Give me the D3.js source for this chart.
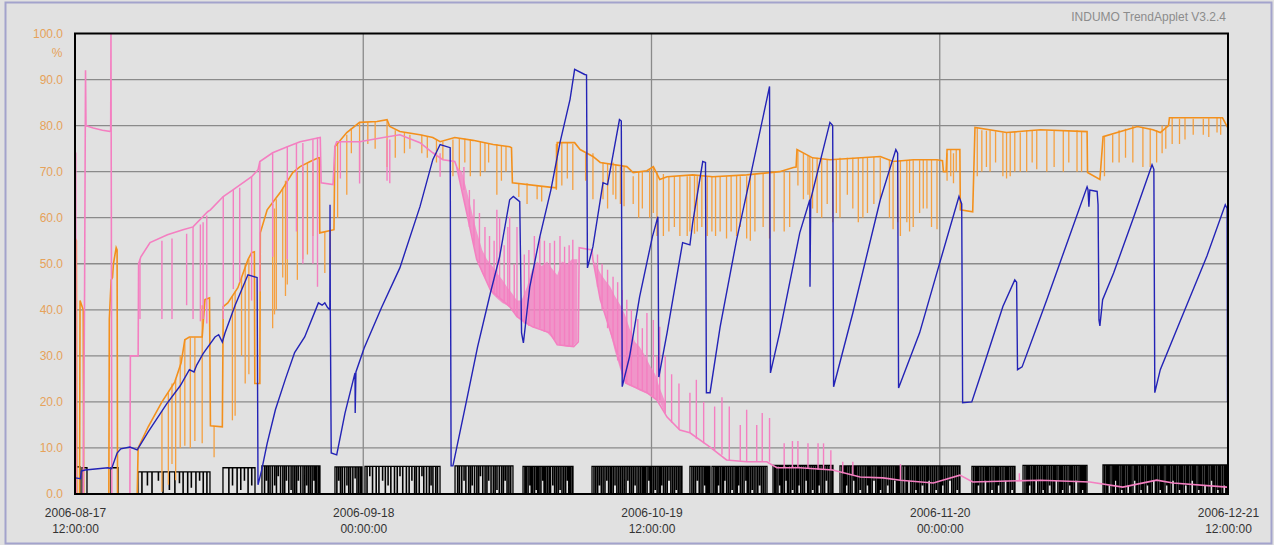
<!DOCTYPE html>
<html><head><meta charset="utf-8">
<script src="https://cdn.jsdelivr.net/npm/d3@7"></script>
<style>
html,body{margin:0;padding:0;background:#e1e1e1;}
svg{display:block;font-family:"Liberation Sans",Arial,sans-serif;}
</style></head><body>
<svg id="chart" width="1274" height="545"></svg>
<script>
// Time window of the trend (days are counted from startTime)
const startTime = Date.UTC(2006, 7, 17, 12);
const endTime = Date.UTC(2006, 11, 21, 12);
const xTickTimes = [Date.UTC(2006,7,17,12), Date.UTC(2006,8,18,0), Date.UTC(2006,9,19,12), Date.UTC(2006,10,20,0), Date.UTC(2006,11,21,12)];
const yTicks = [0,10,20,30,40,50,60,70,80,90,100];
const unitLabel = "%";
const titleText = "INDUMO TrendApplet V3.2.4";

// Blue trace: [day, %]
const blueSeries = [[0,3.5],[0.6,3.3],[0.7,5.0],[1.1,5.2],[3.6,5.7],[4.0,5.5],[4.6,8.9],[5.0,9.8],[6.0,10.2],[6.8,9.6],[8.0,13.5],[10.0,19.5],[11.5,23.5],[12.5,27.0],[13.0,26.5],[13.3,28.0],[14.0,30.5],[15.3,34.1],[15.7,34.6],[16.1,33.0],[16.4,35.0],[17.5,41.0],[18.9,47.6],[19.9,47.0],[20.0,2.0],[20.4,5.2],[21.0,11.0],[21.9,18.3],[23.0,25.0],[24.0,30.7],[25.1,34.1],[26.6,41.5],[27.0,41.0],[27.3,41.5],[27.6,40.5],[27.85,40.0],[27.87,62.8],[27.9,40.0],[28.0,8.9],[28.6,8.5],[29.5,17.5],[30.6,26.3],[30.62,17.6],[30.7,26.5],[31.6,31.7],[33.5,40.5],[35.5,49.1],[37.7,62.4],[39.1,72.6],[39.9,75.9],[41.0,75.2],[41.1,6.1],[41.3,6.1],[42.8,20.4],[44.0,32.0],[45.4,43.7],[46.4,51.5],[47.5,63.9],[47.9,64.6],[48.6,63.5],[48.8,35.0],[49.0,32.8],[49.7,45.0],[50.8,55.9],[52.0,66.0],[53.0,76.3],[54.1,85.7],[54.6,92.2],[55.7,91.1],[55.9,91.0],[56.0,49.1],[56.6,53.7],[57.7,67.6],[58.2,67.2],[59.5,81.3],[59.7,81.0],[59.8,23.3],[60.6,29.8],[61.7,42.8],[63.1,55.9],[63.7,60.2],[63.8,25.4],[64.7,35.0],[66.4,54.6],[67.2,54.1],[67.5,58.9],[68.6,72.2],[68.9,72.0],[69.0,22.0],[69.4,22.0],[70.5,36.3],[72.3,55.2],[73.8,68.9],[75.6,85.7],[75.9,88.5],[76.0,26.3],[77.0,35.0],[79.2,56.7],[80.3,63.9],[80.32,45.0],[80.4,64.0],[82.5,80.7],[82.8,80.0],[82.9,23.3],[85.0,39.3],[88.0,63.9],[89.7,74.8],[89.9,74.0],[90.0,23.0],[92.3,35.0],[94.5,50.2],[96.6,64.6],[96.9,63.0],[97.0,19.8],[98.0,20.0],[99.0,26.0],[101.4,40.7],[102.7,46.5],[102.9,46.0],[103.0,27.0],[103.5,27.6],[106.2,42.2],[108.5,55.0],[110.6,66.7],[110.7,66.1],[110.8,62.4],[110.9,66.0],[111.7,65.7],[111.8,62.8],[111.9,37.8],[112.0,36.5],[112.3,42.2],[113.5,48.0],[115.6,59.6],[117.7,71.5],[117.9,70.5],[118.0,22.0],[118.6,27.0],[120.7,37.2],[123.7,51.7],[125.7,62.8],[125.9,62.0],[125.95,20.0]];

// Orange trace: [day, %]
const orangeSeries = [[0,55.6],[0.15,55.0],[0.2,0],[0.5,0],[0.55,42],[0.9,40],[0.95,0],[3.7,0],[3.75,38],[3.95,46.5],[4.1,47],[4.2,50],[4.5,53.5],[4.6,53],[4.65,0],[6.8,0],[6.9,10.0],[8.0,14.6],[9.5,20.0],[10.9,24.3],[11.6,28.5],[12.0,33.5],[12.5,34.1],[13.9,34.1],[14.2,42.2],[14.7,42.6],[14.8,14.8],[16.1,14.6],[16.2,40.7],[16.7,41.5],[17.8,44.8],[18.9,50.9],[19.3,52.4],[19.6,52.6],[19.65,24.0],[20.2,24.0],[20.25,56.7],[21.0,61.7],[21.6,63.3],[22.4,65.4],[23.8,69.8],[24.6,71.1],[25.7,72.2],[26.6,73.0],[26.7,73.0],[26.75,56.7],[28.3,57.4],[28.4,75.4],[29.7,78.5],[31.1,80.7],[33.0,80.9],[34.1,81.3],[34.4,79.8],[35.5,78.7],[37.7,78.0],[39.1,77.4],[39.9,76.5],[41.5,77.4],[43.5,76.8],[45.7,75.9],[47.5,75.4],[47.7,75.2],[47.8,67.6],[51.6,66.7],[52.6,66.5],[52.7,76.3],[54.6,76.3],[55.2,74.8],[56.6,73.3],[57.4,72.0],[60.3,71.1],[61.0,69.8],[62.5,70.2],[63.2,71.1],[63.9,68.3],[64.7,68.9],[67.5,69.3],[69.7,68.9],[73.4,69.3],[77.0,70.0],[78.5,70.9],[78.8,71.0],[78.9,74.8],[80.6,73.0],[82.5,72.6],[88.0,73.3],[89.4,72.2],[91.6,72.6],[94.2,72.6],[94.8,72.4],[94.9,70.0],[95.2,70.0],[95.3,74.8],[96.7,74.8],[96.75,61.7],[98.1,61.3],[98.35,79.6],[101.8,78.5],[105.5,79.1],[110.6,78.7],[110.65,69.8],[112.0,68.3],[112.35,77.6],[116.1,79.8],[117.8,79.1],[118.6,78.5],[119.5,80.0],[119.6,81.7],[125.4,81.7],[125.9,79.8],[126,80.0]];

// Short orange dropouts: [day, from %, to %]
const orangeDrops = [[9.5,18,0.5],[10.2,22,2],[10.6,24,6.5],[11.0,25,3],[11.5,30,10],[12.0,33.5,10.5],[12.6,34,10],[13.1,34,11.5],[13.9,41,11],[15.2,14.7,8],[17.2,43,16],[17.5,44,17],[18.2,47,30],[18.6,50,24],[19.0,51,26],[21.6,63,36],[21.8,62,39],[22.0,64,40],[22.7,66.5,47],[23.0,68,43],[23.2,68,45.5],[24.3,70,46.5],[24.9,71,51],[25.4,71.8,52],[26.0,72,56],[27.3,57,48],[27.9,57.2,50],[28.7,76,60],[29.7,78,65],[30.2,79.5,74],[31.1,80.5,70],[32.0,80.8,76],[32.8,80.9,75],[34.1,81,71],[35.0,79,73],[36.0,78.5,74],[36.6,78,75],[37.9,78,74],[38.5,77.6,73],[39.5,77,72],[40.2,76.5,72.6],[41.3,77,69],[42.0,77.3,70],[42.6,77.2,72],[43.2,77,69],[44.3,76.5,69],[44.8,76.3,70],[45.2,76.2,72],[46.1,76,65],[46.6,75.7,68],[47.1,75.5,70],[48.5,67.4,64.5],[49.4,67.5,63],[50.5,67,64],[51.0,66.8,63.5],[52.6,76,66],[53.2,76.3,67],[53.8,76.3,68.5],[54.4,76,66],[55.8,74,68],[56.6,74,64],[57.7,72,64],[58.2,71.8,62],[58.8,72,65],[59.1,71.5,64],[59.6,71,63],[60.0,71.2,62.5],[61.0,69,63],[61.6,69.9,60],[62.0,70,62],[62.8,70.5,60],[63.2,71,61],[63.6,70,56],[64.3,69.5,56],[64.9,69,57],[65.5,69,58],[66.1,69,56],[66.9,69,56],[67.2,69,57],[67.7,69.3,56.5],[68.0,69,57],[68.5,69.2,58],[69.1,69,56],[69.6,69,57],[70.0,69,56],[70.5,69,57],[71.2,69,55.5],[71.7,69.1,57],[72.3,69.2,56],[72.7,69,58],[73.4,69,55.5],[73.8,69,55],[74.3,69.5,57],[75.2,69.6,58],[75.9,69.5,55.5],[76.4,69.8,57],[77.5,70.1,57],[78.1,70,58],[79.0,74.5,67],[79.6,74,64],[80.1,73.5,65],[80.3,73.2,63],[80.6,73,62],[81.1,73,61],[81.6,72.8,60],[82.2,72.6,63],[82.8,72.6,59],[83.2,72.7,61],[83.6,73,60],[84.4,73,65],[85.0,73,62],[85.6,73,59],[86.1,73,60],[86.6,73.1,61],[87.3,73.2,63],[88.0,73,64],[89.0,72.6,60],[89.4,72,57.5],[89.9,72.3,59],[90.2,72.5,56],[90.9,72.5,59],[91.2,72.6,57],[91.6,72.5,58],[92.3,72.5,61],[92.7,72.6,62],[93.1,72.5,62],[93.6,72.6,58],[94.2,72.5,57.5],[95.3,74,68],[95.7,74.8,69],[96.0,74,67.5],[96.3,74.8,70],[98.6,79.6,69],[99.1,79,70],[99.6,78.9,71],[100.0,79,70],[100.6,78.8,72],[101.4,78.5,69],[101.8,78.5,68.5],[102.2,78.5,69],[102.7,78.6,70],[103.3,78.5,70],[104.0,79,70],[104.6,79,72],[105.1,79,70.5],[106.2,79,70],[107.0,79,71],[108.0,79,70],[108.6,79,72],[109.5,79,70],[110.0,78.8,70],[112.5,77.6,69],[113.4,78,72],[114.1,79,72],[114.8,79.3,73],[115.6,80,72],[116.7,79.5,71],[117.5,79.3,71],[118.2,79,72],[118.8,80,74],[119.2,80,75],[119.9,81.7,76],[120.7,81.5,76],[121.3,81.6,77],[122.2,81.5,78],[123.3,81.5,78],[123.9,81.6,77.5],[124.8,81.7,78.5],[125.2,81.7,78]];

// Pink trace: [day, %]
const pinkSeries = [[0,74],[0.08,74],[0.12,0],[0.9,0],[1.05,45],[1.15,92],[1.2,80],[2.0,79.5],[3.0,79],[3.9,78.7],[3.93,100],[3.97,62],[4.02,0],[6.0,0],[6.05,30],[6.9,30],[6.95,50],[7.2,51.5],[8.2,54.6],[10.1,56.3],[11.8,57.4],[12.9,58.0],[14.5,61.3],[14.8,61.7],[16.2,64.6],[17.3,66.1],[19.3,68.9],[20.0,70.4],[20.2,72.2],[21.6,74.1],[23.2,75.4],[24.6,76.5],[26.8,77.4],[26.9,67.6],[28.2,67.2],[28.4,75.4],[28.6,76.5],[31.1,76.5],[33.7,77.4],[35.5,78.0],[37.7,76.3],[39.1,74.1],[40.2,72.6],[41.5,72.2],[41.7,71.1],[42.8,61.1],[43.9,50.9],[45.4,44.3],[47.5,40.7],[48.3,38.5],[50.0,36.3],[51.9,35.0],[52.7,32.4],[54.5,32.0],[55.0,33],[55.1,53.5],[56.5,53.0],[56.6,50.9],[57.4,42.2],[58.8,33.5],[60.2,24.1],[62.5,22.0],[63.6,20.4],[64.7,16.7],[66.1,13.9],[67.2,13.3],[69.4,10.2],[71.2,7.4],[73.4,7.0],[75.6,7.0],[76.7,5.7],[79.2,5.7],[82.8,5.2],[85.8,3.7],[88.3,3.5],[90.2,3.0],[93.8,2.4],[96.7,4.1],[98.1,2.6],[105.5,3.0],[110.9,2.6],[114.5,1.5],[118.2,3.0],[120.0,2.4],[125.9,1.5]];

// Dense pink bands: [day, low %, high %]
const pinkBandA = [[41.7,71.1,71.1],[42.3,66,70],[42.8,61,66],[43.4,56,61],[43.9,51,57],[44.5,48,53],[45.0,46,51],[45.6,43.5,49.5],[46.1,42.5,48],[46.7,41.5,46.5],[47.2,41,45],[47.8,40,43.5],[48.3,38.5,42],[48.8,37.5,42],[49.4,36.8,45],[49.9,36.3,48.5],[50.5,36,50.5],[51.0,35.5,49.5],[51.6,35,50.5],[52.1,34,49],[52.7,32.5,47.5],[53.2,32.2,50.5],[53.8,32,50],[54.3,32,51],[54.9,33,51]];
const pinkBandB = [[56.8,49,50.5],[57.4,42.2,48],[57.9,39,46.5],[58.5,35,45],[59.0,31,43],[59.6,27,41],[60.1,24,39],[60.6,23.5,36],[61.2,23,33],[61.7,22.5,32],[62.3,22,30],[62.8,21.5,28],[63.4,20.8,26],[63.9,20,23],[64.5,17.5,20]];

// Pink short excursions: [day, from %, to %]
const pinkSpikes = [[7.1,51,38],[9.5,55,38],[10.6,55.5,38],[12.2,56.5,41],[12.9,58,38],[13.7,58.5,37.5],[14.0,59,38],[14.4,60.5,37],[16.2,64.6,38],[17.3,66,44.5],[18.0,66.5,46],[19.3,69,42],[20.2,72,44],[21.6,74,51.5],[23.2,75.4,51],[24.2,76,57],[24.9,76.2,50],[26.0,77,50],[26.5,77.4,45],[29.0,76.5,68.5],[31.1,76.5,67.4],[34.1,77,68],[34.4,77,67.5],[39.9,74,68.9],
[42.5,66,71],[43.1,58,66],[43.6,54,64],[44.2,50,61],[44.8,47,58],[45.3,45,56],[45.8,43.5,55],[46.1,42.8,61.7],[46.4,42.5,60],[46.9,41.5,54],[47.3,41,58],[47.5,40.7,60.2],[48.0,39.5,50],[48.3,38.5,58.0],[49.1,37,52],[49.6,36.5,53],[50.2,36.2,56],[50.8,36,55.9],[51.3,35.2,55],[51.9,35,54.5],[52.4,33.5,55],[53.0,32.3,56],[53.5,32.2,53.7],[54.0,32,54],[54.4,32,55.2],
[57.1,45,52],[57.6,40,50],[58.2,36,48.7],[58.8,33.5,47.2],[59.3,29,46],[59.8,26,44.3],[60.3,24,42.2],[60.8,23.5,40],[61.5,23,38],[62.0,22.5,36],[62.5,22,39.3],[63.2,21,37.8],[63.6,20.5,30],[63.9,20.4,36.3],[64.5,17.5,30],[65.2,15.5,26],[66.0,14,24],[67.2,13.3,22],[67.9,12,24.8],[68.7,11,20],[69.9,9.5,19],[70.7,8.5,21],[71.5,7.4,19],[72.7,7.2,15],[73.4,7.0,18.3],[74.5,7.0,15],[75.1,7.0,17.6],[75.9,7.0,16.5],[77.5,5.7,11],[78.4,5.7,11.5],[79.0,5.7,11.5],[80.1,5.5,11],[81.2,5.3,11],[81.8,5.2,11],[82.6,5.2,9.5],[83.9,4.5,7],[85.0,4.2,7],[90.2,3.0,6.5],[103.2,3,4.5]];

// Black status signal: running periods [from day, to day, level %] and dips [day, %]
const statusRuns = [[0,0.55,5.9],[0.77,1.31,5.7],[3.93,4.7,5.7],[6.88,14.75,4.8],[16.17,19.67,5.7],[20.43,26.77,6.1],[28.41,31.36,5.9],[31.69,39.89,6.0],[41.53,47.86,6.1],[48.96,54.42,6.0],[56.5,66.33,6.0],[67.2,69.39,6.0],[69.61,75.62,6.0],[76.28,82.83,6.2],[83.6,90.15,6.1],[90.37,96.71,6.1],[98.02,102.72,6.0],[103.6,110.59,6.2],[112.34,125.89,6.3]];
const statusDips = [[7.3,0],[7.9,2],[8.4,0],[9.1,3],[9.6,0],[10.3,1],[10.9,0],[11.4,2.5],[11.8,0],[12.3,0],[12.7,1.5],[13.2,0],[13.6,3],[14.0,0],[14.4,0],
[16.8,0],[17.2,2],[17.7,0],[18.1,1],[18.5,3],[18.9,0],[19.3,2],
[20.9,3],[21.3,0],[21.8,2],[22.2,4],[22.7,0],[23.1,3],[23.6,1],[24.0,0],[24.4,3],[24.9,0],[25.3,2],[25.7,0],[26.1,3],[26.4,0],
[28.8,3],[29.2,0],[29.7,2],[30.1,0],[30.6,3.5],[31.0,0],
[32.2,4],[32.9,0],[33.6,3],[34.2,2],[34.9,0],[35.5,4],[36.2,0],[36.8,3],[37.3,0],[37.9,4],[38.4,0],[38.9,2],[39.4,0],
[42.0,0],[42.5,3],[43.0,0],[43.4,2],[43.9,0],[44.3,4],[44.8,0],[45.2,3],[45.7,0],[46.1,1],[46.6,0],[47.0,3],[47.4,0],
[49.3,0],[49.7,2],[50.0,0],[50.4,1],[50.7,0],[51.1,3],[51.4,0],[51.8,0],[52.2,2],[52.6,0],[53.0,1],[53.4,0],[53.8,3],[54.1,0],
[56.9,0],[57.3,2],[57.7,0],[58.1,3],[58.5,0],[58.6,0],[59.0,2],[59.6,0],[60.0,0],[60.4,3],[60.8,0],[61.2,2],[61.6,0],[62.0,0],[62.3,0],[62.7,3],[63.0,0],[63.4,1],[63.8,0],[64.1,2],[64.5,0],[64.9,3],[65.3,0],[65.7,1],[66.0,0],
[67.6,0],[68.0,3],[68.4,0],[68.8,2],[69.1,0],
[70.0,0],[70.3,2],[70.7,0],[71.0,3],[71.4,0],[71.8,1],[72.2,0],[72.5,2],[72.9,0],[73.3,3],[73.6,0],[74.0,1],[74.4,0],[74.8,2],[75.2,0],
[76.6,0],[77.0,2],[77.3,0],[77.7,3],[78.0,0],[78.4,1],[78.8,0],[79.1,2],[79.5,0],[79.9,3],[80.2,0],[80.6,1],[81.0,0],[81.3,2],[81.7,0],[82.1,3],[82.5,0],
[84.0,0],[84.3,2],[84.7,0],[85.1,3],[85.4,0],[85.8,1],[86.2,0],[86.6,2],[86.9,0],[87.3,3],[87.7,0],[88.0,1],[88.4,0],[88.8,2],[89.2,0],[89.6,3],[89.9,0],
[90.8,0],[91.1,3],[91.5,0],[91.9,1],[92.2,0],[92.6,2],[93.0,0],[93.3,3],[93.7,0],[94.1,1],[94.5,0],[94.8,2],[95.2,0],[95.6,3],[96.0,0],[96.4,1],
[98.4,0],[98.7,2],[99.1,0],[99.5,3],[99.8,0],[100.2,1],[100.6,0],[100.9,2],[101.3,0],[101.7,3],[102.0,0],[102.4,1],
[104.0,0],[104.3,2],[104.7,0],[105.0,3],[105.4,0],[105.8,1],[106.1,0],[106.5,2],[106.9,0],[107.2,3],[107.6,0],[107.9,1],[108.3,0],[108.7,2],[109.0,0],[109.4,3],[109.8,0],[110.1,1],[110.4,0],
[112.7,0],[113.0,2],[113.4,0],[113.7,3],[114.0,0],[114.4,1],[114.7,0],[115.1,2],[115.4,0],[115.8,3],[116.1,0],[116.5,1],[116.8,0],[117.2,2],[117.5,0],[117.9,3],[118.2,0],[118.6,1],[118.9,0],[119.3,2],[119.6,0],[120.0,3],[120.3,0],[120.7,1],[121.0,0],[121.4,2],[121.7,0],[122.1,3],[122.4,0],[122.8,1],[123.1,0],[123.5,2],[123.8,0],[124.2,3],[124.5,0],[124.9,1],[125.2,0],[125.6,2]];
// Further full stops of the status signal: day
const statusStops = [20.7,21.1,21.55,22.0,22.45,22.9,23.35,23.8,24.2,24.65,25.1,25.5,25.9,26.25,26.6,
28.6,29.0,29.45,29.9,30.35,30.8,31.2,
31.9,32.5,33.2,33.9,34.5,35.2,35.8,36.5,37.1,37.6,38.1,38.7,39.1,39.6,
41.8,42.25,42.7,43.2,43.65,44.1,44.55,45.0,45.45,45.9,46.35,46.8,47.2,47.6,
49.15,49.5,49.85,50.2,50.55,50.9,51.25,51.6,51.95,52.4,52.8,53.2,53.6,53.95,54.3,
56.7,57.1,57.5,57.9,58.3,58.8,59.2,59.4,59.8,60.2,60.6,61.0,61.4,61.8,62.15,62.5,62.85,63.2,63.6,63.95,64.3,64.7,65.1,65.5,65.9,66.2,
67.4,67.8,68.2,68.6,68.95,69.25,
69.8,70.15,70.5,70.85,71.2,71.6,72.0,72.35,72.7,73.1,73.45,73.8,74.2,74.6,75.0,75.4,
76.45,76.8,77.15,77.5,77.85,78.2,78.6,78.95,79.3,79.7,80.05,80.4,80.8,81.15,81.5,81.9,82.3,82.7,
83.8,84.15,84.5,84.9,85.25,85.6,86.0,86.4,86.75,87.1,87.5,87.85,88.2,88.6,89.0,89.4,89.75,90.05,
90.55,90.95,91.3,91.7,92.05,92.4,92.8,93.15,93.5,93.9,94.3,94.65,95.0,95.4,95.8,96.2,96.6,
98.2,98.55,98.9,99.3,99.65,100.0,100.4,100.75,101.1,101.5,101.85,102.2,102.6,
103.8,104.15,104.5,104.85,105.2,105.6,105.95,106.3,106.7,107.05,107.4,107.75,108.1,108.5,108.85,109.2,109.6,109.95,110.25,
112.5,112.85,113.2,113.55,113.85,114.2,114.55,114.9,115.25,115.6,115.95,116.3,116.65,117.0,117.35,117.7,118.05,118.4,118.75,119.1,119.45,119.8,120.15,120.5,120.85,121.2,121.55,121.9,122.25,122.6,122.95,123.3,123.65,124.0,124.35,124.7,125.05,125.4,125.75];

const colors = {blue:"#2323b6", orange:"#f3901c", orangeLight:"#f5a040", pink:"#f47fc1", black:"#000000"};

const svg = d3.select("#chart");
const W = 1274, H = 545;
const plot = {left:75, right:1228, top:33.5, bottom:494};

svg.append("rect").attr("x",0).attr("y",0).attr("width",W).attr("height",H).attr("fill","#e1e1e1");
svg.append("rect").attr("x",5.5).attr("y",2.5).attr("width",W-8).attr("height",H-4)
  .attr("fill","none").attr("stroke","#a3a3cc").attr("stroke-width",2);

const day = d => new Date(startTime + d*864e5);
const x = d3.scaleUtc().domain([new Date(startTime), new Date(endTime)]).range([plot.left, plot.right]);
const y = d3.scaleLinear().domain([0,100]).range([plot.bottom, plot.top]);

// Grid
const grid = svg.append("g");
grid.selectAll("line.h").data(yTicks.filter(v=>v>0&&v<100)).join("line")
  .attr("x1",plot.left).attr("x2",plot.right).attr("y1",d=>y(d)).attr("y2",d=>y(d))
  .attr("stroke","#8a8a8a").attr("stroke-width",1.3);
grid.selectAll("line.v").data(xTickTimes.slice(1,-1)).join("line")
  .attr("x1",d=>x(new Date(d))).attr("x2",d=>x(new Date(d))).attr("y1",plot.top).attr("y2",plot.bottom)
  .attr("stroke","#8a8a8a").attr("stroke-width",1.3);

svg.append("defs").append("clipPath").attr("id","clip").append("rect")
  .attr("x",plot.left).attr("y",plot.top-1).attr("width",plot.right-plot.left).attr("height",plot.bottom-plot.top+1);
const g = svg.append("g").attr("clip-path","url(#clip)");

const line = d3.line().x(d=>x(day(d[0]))).y(d=>y(d[1]));

// Black status signal
const allDips = statusDips.concat(statusStops.map(d=>[d,0])).sort((a,b)=>a[0]-b[0]);
const statusPts = [];
statusRuns.forEach(([a,b,lv])=>{
  statusPts.push([a,0],[a,lv]);
  allDips.filter(p=>p[0]>a&&p[0]<b).forEach(([d,v])=>{
    statusPts.push([d,lv],[d,v],[d+0.03,v],[d+0.03,lv]);
  });
  statusPts.push([b,lv],[b,0]);
});
statusPts.push([126,0]);
g.append("path").datum(statusPts).attr("d",line).attr("fill","none")
  .attr("stroke",colors.black).attr("stroke-width",1.3).attr("stroke-linejoin","miter");

// Orange
g.append("g").selectAll("line").data(orangeDrops).join("line")
  .attr("x1",d=>x(day(d[0]))).attr("x2",d=>x(day(d[0])))
  .attr("y1",d=>y(d[1])).attr("y2",d=>y(d[2]))
  .attr("stroke",colors.orangeLight).attr("stroke-width",1.3);
g.append("path").datum(orangeSeries).attr("d",line).attr("fill","none")
  .attr("stroke",colors.orange).attr("stroke-width",1.6);

// Pink
const band = d3.area().x(d=>x(day(d[0]))).y0(d=>y(d[1])).y1(d=>y(d[2]));
[pinkBandA,pinkBandB].forEach(b=>g.append("path").datum(b).attr("d",band).attr("fill",colors.pink).attr("opacity",0.78));
g.append("g").selectAll("line").data(pinkSpikes).join("line")
  .attr("x1",d=>x(day(d[0]))).attr("x2",d=>x(day(d[0])))
  .attr("y1",d=>y(d[1])).attr("y2",d=>y(d[2]))
  .attr("stroke",colors.pink).attr("stroke-width",1.4);
g.append("path").datum(pinkSeries).attr("d",line).attr("fill","none")
  .attr("stroke",colors.pink).attr("stroke-width",1.6);

// Blue
g.append("path").datum(blueSeries).attr("d",line).attr("fill","none")
  .attr("stroke",colors.blue).attr("stroke-width",1.4);

// Frame
svg.append("rect").attr("x",plot.left).attr("y",plot.top).attr("width",plot.right-plot.left).attr("height",plot.bottom-plot.top)
  .attr("fill","none").attr("stroke","#000").attr("stroke-width",2);

// Y axis
const yAxis = svg.append("g").attr("transform",`translate(${plot.left},0)`)
  .call(d3.axisLeft(y).tickValues(yTicks).tickFormat(d3.format(".1f")).tickSize(0).tickPadding(12));
yAxis.select(".domain").remove();
yAxis.selectAll("text").attr("fill","#e6a25a").attr("font-size",12).attr("font-family","'Liberation Sans',Arial,sans-serif");
svg.append("text").attr("x",plot.left-18).attr("y",y(100)+23).attr("text-anchor","middle")
  .attr("fill","#e6a25a").attr("font-size",12).text(unitLabel);

// X axis with two-line labels
const fmtDate = d3.utcFormat("%Y-%m-%d"), fmtTime = d3.utcFormat("%H:%M:%S");
const xAxis = svg.append("g").attr("transform",`translate(0,${plot.bottom})`)
  .call(d3.axisBottom(x).tickValues(xTickTimes.map(t=>new Date(t))).tickSize(0).tickFormat(""));
xAxis.select(".domain").remove();
xAxis.selectAll(".tick").each(function(d){
  const t = d3.select(this).append("text").attr("fill","#333").attr("font-size",12)
    .attr("text-anchor","middle").attr("font-family","'Liberation Sans',Arial,sans-serif");
  t.append("tspan").attr("x",0).attr("y",23).text(fmtDate(d));
  t.append("tspan").attr("x",0).attr("y",39).text(fmtTime(d));
});

// Title
svg.append("text").attr("x",1226).attr("y",21).attr("text-anchor","end")
  .attr("fill","#8c8c8c").attr("font-size",12).text(titleText);
</script>
</body></html>
